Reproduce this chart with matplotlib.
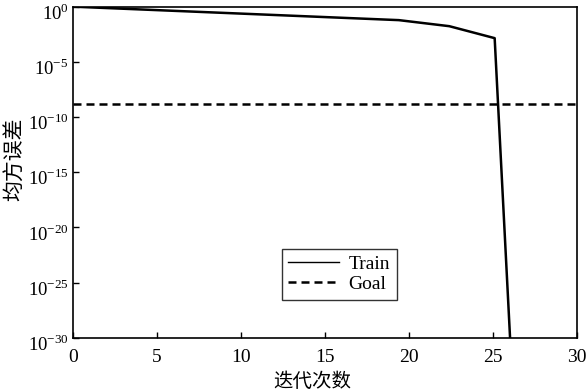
import numpy as np
import matplotlib
matplotlib.use("Agg")
from matplotlib import pyplot as plt
from matplotlib.lines import Line2D
from matplotlib.ticker import FixedLocator, NullLocator, FuncFormatter
from matplotlib.transforms import ScaledTranslation

plt.rcParams['font.family'] = ['Liberation Serif', 'Noto Sans CJK SC']
plt.rcParams['mathtext.fontset'] = 'custom'
plt.rcParams['mathtext.rm'] = 'Liberation Serif'

# data
epochs = [0, 19.4, 22.4, 25.1, 26.05]
mse = [1.0, 0.06, 0.017, 1.4e-3, 1e-31]
goal = 1.5e-9
xticks = [0, 5, 10, 15, 20, 25, 30]
yexp = [0, -5, -10, -15, -20, -25, -30]

fig = plt.figure(figsize=(5.87, 3.91), dpi=100)
ax = fig.add_axes([0.124, 0.136, 0.859, 0.847])

ax.semilogy(epochs, mse, color="black", lw=1.8)
ax.axhline(goal, color="black", lw=1.8, dashes=(3.2, 2))

ax.set_xlim(0, 30)
ax.set_ylim(1e-30, 1e0)
ax.set_xticks(xticks)
ax.yaxis.set_major_locator(FixedLocator([10.0 ** e for e in yexp]))
ax.yaxis.set_minor_locator(NullLocator())
ax.yaxis.set_major_formatter(FuncFormatter(lambda v, p: r"$10^{%d}$" % round(np.log10(v))))
ax.tick_params(direction="in", length=4, width=1)
ax.tick_params(axis="x", pad=8, labelsize=14)
ax.tick_params(axis="y", pad=3, labelsize=13.5)
for s in ax.spines.values():
    s.set_linewidth(1.2)

# y tick labels sit a bit below their ticks in the original
shift = ScaledTranslation(0, -3.5 / 72, fig.dpi_scale_trans)
for lab in ax.get_yticklabels():
    lab.set_transform(lab.get_transform() + shift)

ax.set_xlabel("迭代次数", fontsize=14)
ax.xaxis.set_label_coords(0.475, -0.105)
ax.set_ylabel("均方误差", fontsize=15)
ax.yaxis.set_label_coords(-0.095, 0.54)

handles = [Line2D([], [], color="black", lw=1.0),
           Line2D([], [], color="black", lw=1.8, dashes=(3.2, 2))]
leg = ax.legend(handles, ["Train", "Goal"], loc="lower left",
                bbox_to_anchor=(0.414, 0.115), fontsize=14, frameon=True,
                fancybox=False, edgecolor="black", borderpad=0.35,
                handlelength=2.6, handletextpad=0.5, labelspacing=0.12,
                borderaxespad=0)
leg.get_frame().set_linewidth(1.0)

fig.savefig("out.png", dpi=100)
